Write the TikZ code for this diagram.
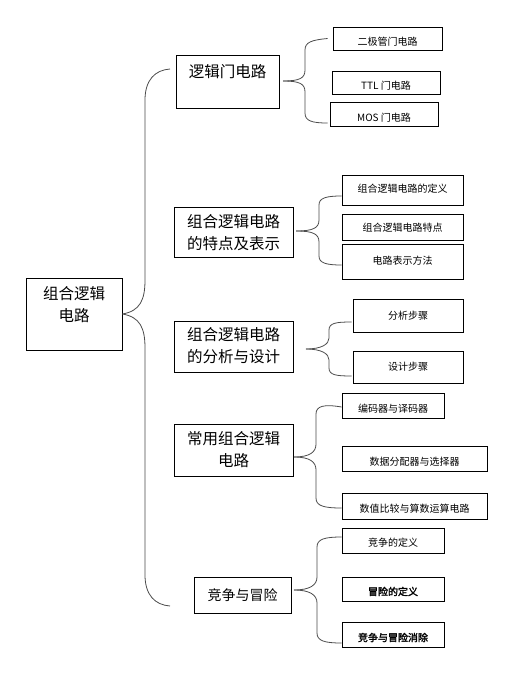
\documentclass[tikz,border=0pt]{standalone}
\usepackage{fontspec}
\setmainfont{Noto Sans CJK SC}
\newfontfamily\cjkb[FakeBold=2]{Noto Sans CJK SC}
\begin{document}
\begin{tikzpicture}[x=1pt,y=-1pt,
  box/.style={draw=black,line width=0.9pt,rectangle,inner sep=0pt,fill=white},
  tbig/.style={font=\fontsize{15.5}{22}\selectfont,align=center,inner sep=0pt},
  tsmall/.style={font=\fontsize{10}{12}\selectfont,inner sep=0pt},
  con/.style={draw=black!70,line width=0.8pt}]
\useasboundingbox[fill=white] (0,0) rectangle (516,682);
% root
\node[box,minimum width=96pt,minimum height=72pt] (root) at (74,314) {};
\node[tbig] (troot) at (74,304.5) {组合逻辑\\电路};
% level 1
\node[box,minimum width=103pt,minimum height=53pt] (a) at (227.5,81.5) {};
\node[tbig] (ta) at (227.5,72) {逻辑门电路};
\node[box,minimum width=119pt,minimum height=50pt] (b) at (233.5,232) {};
\node[tbig] (tb) at (233.5,232.5) {组合逻辑电路\\的特点及表示};
\node[box,minimum width=119pt,minimum height=51pt] (c) at (233.5,346.5) {};
\node[tbig] (tc) at (233.5,346) {组合逻辑电路\\的分析与设计};
\node[box,minimum width=119pt,minimum height=52pt] (d) at (233.5,450) {};
\node[tbig] (td) at (233.5,450) {常用组合逻辑\\电路};
\node[box,minimum width=97pt,minimum height=36pt] (e) at (242.5,595) {};
\node[tbig,font=\fontsize{14}{18}\selectfont] (te) at (242.5,595) {竞争与冒险};
% level 2
\node[box,minimum width=109pt,minimum height=23pt] (a1) at (387.5,38.5) {};
\node[tsmall] (ta1) at (387.5,42) {二极管门电路};
\node[box,minimum width=108pt,minimum height=23pt] (a2) at (386,82.5) {};
\node[tsmall] (ta2) at (386,86) {TTL 门电路};
\node[box,minimum width=108pt,minimum height=24pt] (a3) at (384,114) {};
\node[tsmall] (ta3) at (384,118) {MOS 门电路};
\node[box,minimum width=121pt,minimum height=30pt] (b1) at (402.5,190) {};
\node[tsmall] (tb1) at (402.5,189) {组合逻辑电路的定义};
\node[box,minimum width=121pt,minimum height=26pt] (b2) at (402.5,227) {};
\node[tsmall] (tb2) at (402.5,228) {组合逻辑电路特点};
\node[box,minimum width=121pt,minimum height=35pt] (b3) at (402.5,261.5) {};
\node[tsmall] (tb3) at (402.5,260.5) {电路表示方法};
\node[box,minimum width=110pt,minimum height=33pt] (c1) at (408,315.5) {};
\node[tsmall] (tc1) at (408,315.5) {分析步骤};
\node[box,minimum width=110pt,minimum height=32pt] (c2) at (408,367) {};
\node[tsmall] (tc2) at (408,367) {设计步骤};
\node[box,minimum width=102pt,minimum height=25pt] (d1) at (393,405.5) {};
\node[tsmall] (td1) at (393,408.5) {编码器与译码器};
\node[box,minimum width=145pt,minimum height=25pt] (d2) at (414.5,458.5) {};
\node[tsmall] (td2) at (414.5,461.5) {数据分配器与选择器};
\node[box,minimum width=145pt,minimum height=26pt] (d3) at (414.5,506) {};
\node[tsmall] (td3) at (414.5,509) {数值比较与算数运算电路};
\node[box,minimum width=102pt,minimum height=25pt] (e1) at (393,540.5) {};
\node[tsmall] (te1) at (393,543) {竞争的定义};
\node[box,minimum width=102pt,minimum height=24pt] (e2) at (393,589) {};
\node[tsmall,font=\cjkb\fontsize{10}{12}\selectfont] (te2) at (393,591.5) {冒险的定义};
\node[box,minimum width=102pt,minimum height=25pt] (e3) at (393,634.5) {};
\node[tsmall,font=\cjkb\fontsize{10}{12}\selectfont] (te3) at (393,637.5) {竞争与冒险消除};
% root connectors
\coordinate (ra) at (170,69);
\coordinate (re) at (170,606);
\draw[con] (root.east) .. controls (140,311) and (145,300) .. (145,280) -- (145,100) .. controls (145,80) and (155,70) .. (ra);
\draw[con] (root.east) .. controls (140,317) and (145,328) .. (145,348) -- (145,575) .. controls (145,595) and (155,605) .. (re);
% brace 1
\coordinate (sa) at (283,81);
\draw[con] (sa) .. controls (300,81) and (305,78) .. (305,70) -- (305,50) .. controls (305,42) and (312,40) .. ([xshift=-5pt]a1.west);
\draw[con] (sa) .. controls (300,81) and (305,84) .. (305,92) -- (305,113) .. controls (305,121) and (312,123) .. ([xshift=-2pt,yshift=-9pt]a3.west);
% brace 2
\coordinate (sb) at (296,231);
\draw[con] (sb) .. controls (313,231) and (319,228) .. (319,220) -- (319,205) .. controls (319,198) and (326,196) .. ([yshift=-6pt]b1.west);
\draw[con] (sb) .. controls (313,231) and (319,234) .. (319,242) -- (319,256) .. controls (319,263) and (326,265) .. ([yshift=-3.5pt]b3.west);
% brace 3
\coordinate (sc) at (306,349);
\draw[con] (sc) .. controls (322,349) and (329,344) .. (329,338) -- (329,330) .. controls (329,323) and (336,322) .. ([xshift=-1pt,yshift=-6.5pt]c1.west);
\draw[con] (sc) .. controls (322,349) and (329,354) .. (329,360) -- (329,368) .. controls (329,375) and (336,376) .. ([xshift=-1pt,yshift=-9pt]c2.west);
% brace 4
\coordinate (sd) at (294,457);
\draw[con] (sd) .. controls (310,457) and (316,452) .. (316,444) -- (316,414) .. controls (316,406) and (324,404) .. ([yshift=-1.5pt]d1.west);
\draw[con] (sd) .. controls (310,457) and (316,462) .. (316,470) -- (316,498) .. controls (316,506) and (324,508) .. ([yshift=-2pt]d3.west);
% brace 5
\coordinate (se) at (294,590);
\draw[con] (se) .. controls (310,590) and (317,585) .. (317,577) -- (317,547) .. controls (317,539) and (325,537) .. ([yshift=3.5pt]e1.west);
\draw[con] (se) .. controls (310,590) and (317,595) .. (317,603) -- (317,633) .. controls (317,641) and (325,643) .. ([yshift=-8.5pt]e3.west);
\end{tikzpicture}
\end{document}
